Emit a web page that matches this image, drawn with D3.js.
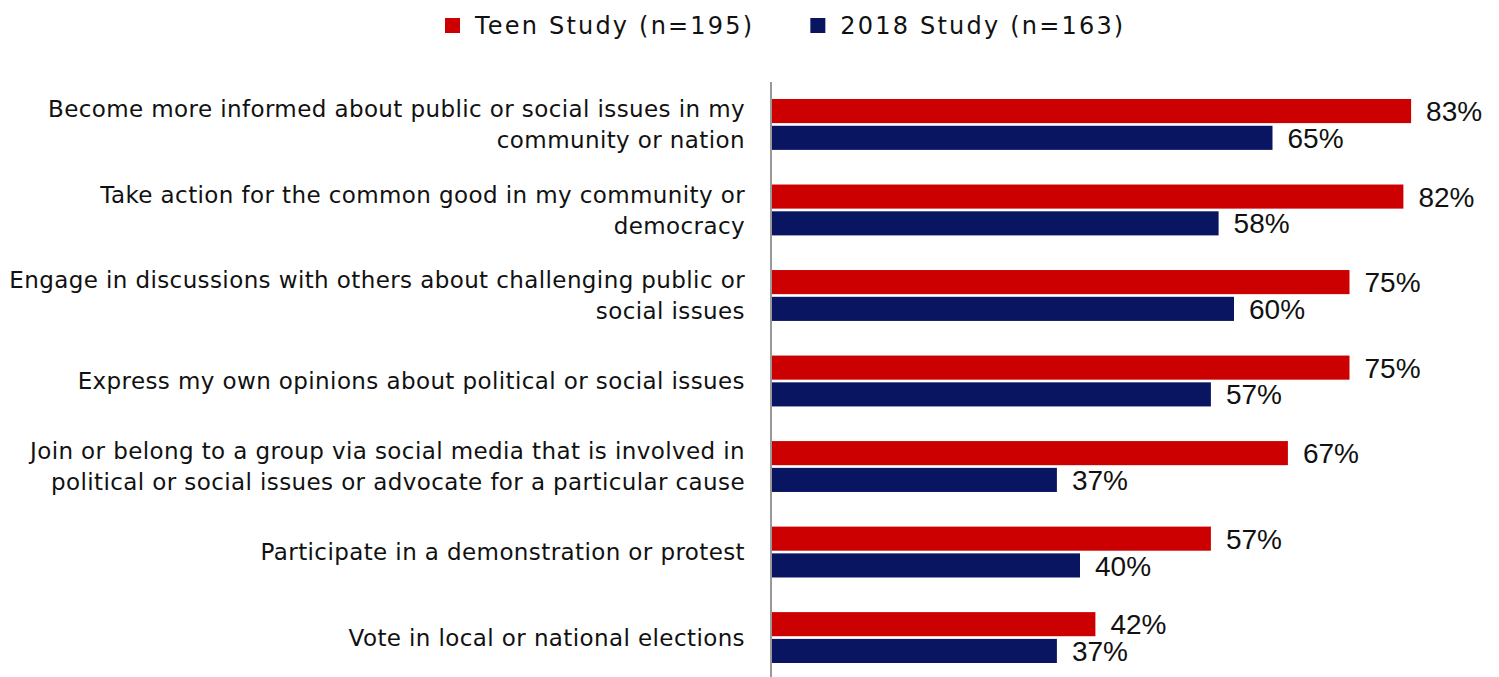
<!DOCTYPE html>
<html>
<head>
<meta charset="utf-8">
<script src="https://cdn.jsdelivr.net/npm/d3@7.9.0/dist/d3.min.js"></script>
<style>
  html, body { margin: 0; padding: 0; background: #fff; }
  svg { display: block; }
</style>
</head>
<body>
<svg id="chart" width="1499" height="677"></svg>
<script>
// categories, line breaks marked with "|"
const categories = [
  'Become more informed about public or social issues in my|community or nation',
  'Take action for the common good in my community or|democracy',
  'Engage in discussions with others about challenging public or|social issues',
  'Express my own opinions about political or social issues',
  'Join or belong to a group via social media that is involved in|political or social issues or advocate for a particular cause',
  'Participate in a demonstration or protest',
  'Vote in local or national elections'
];
const seriesNames = ['Teen Study (n=195)', '2018 Study (n=163)'];
const teenValues = [83, 82, 75, 75, 67, 57, 42];
const study2018Values = [65, 58, 60, 57, 37, 40, 37];
const colors = ['#cc0000', '#0a1562'];

const svg = d3.select('#chart');
const labelFont = '"DejaVu Sans", sans-serif';

const x = d3.scaleLinear().domain([0, 100]).range([772, 1542]);
const y = d3.scaleBand().domain(categories).range([99, 663])
  .paddingInner(0.405).paddingOuter(0);
const ySub = d3.scaleBand().domain(seriesNames).range([0, y.bandwidth()]).paddingInner(0.1);

const rows = categories.map((c, i) => ({
  cat: c,
  values: [
    { name: seriesNames[0], value: teenValues[i], color: colors[0] },
    { name: seriesNames[1], value: study2018Values[i], color: colors[1] }
  ]
}));

// bars
const groups = svg.selectAll('g.row').data(rows).join('g')
  .attr('class', 'row')
  .attr('transform', d => `translate(0,${y(d.cat)})`);

groups.selectAll('rect').data(d => d.values).join('rect')
  .attr('x', x(0))
  .attr('y', d => ySub(d.name))
  .attr('width', d => x(d.value) - x(0))
  .attr('height', ySub.bandwidth())
  .attr('fill', d => d.color);

groups.selectAll('text.val').data(d => d.values).join('text')
  .attr('class', 'val')
  .attr('x', d => x(d.value) + 15)
  .attr('y', d => ySub(d.name) + ySub.bandwidth() / 2)
  .attr('dy', '0.36em')
  .attr('font-family', '"Liberation Sans", Arial, sans-serif')
  .attr('font-size', 28)
  .attr('fill', '#111')
  .text(d => d.value + '%');

// category labels
groups.each(function(d) {
  const lines = d.cat.split('|');
  const t = d3.select(this).append('text')
    .attr('text-anchor', 'end')
    .attr('font-family', labelFont)
    .attr('font-size', 23)
    .attr('letter-spacing', 0.4)
    .attr('fill', '#111');
  const lh = 31;
  lines.forEach((ln, k) => {
    t.append('tspan')
      .attr('x', 745)
      .attr('y', y.bandwidth() / 2 + (k - (lines.length - 1) / 2) * lh)
      .attr('dy', '0.36em')
      .text(ln);
  });
});

// axis line
svg.append('line')
  .attr('x1', x(0) - 1).attr('x2', x(0) - 1)
  .attr('y1', 82).attr('y2', 677)
  .attr('stroke', '#999').attr('stroke-width', 2);

// legend
const legend = svg.append('g').attr('transform', 'translate(445,34)');
let lx = 0;
seriesNames.forEach((name, i) => {
  const g = legend.append('g').attr('transform', `translate(${lx},0)`);
  g.append('rect').attr('x', 0).attr('y', -16).attr('width', 15).attr('height', 15)
    .attr('fill', colors[i]);
  const t = g.append('text').attr('x', 30).attr('y', 0)
    .attr('font-family', labelFont).attr('font-size', 24)
    .attr('letter-spacing', 2.2).attr('fill', '#111')
    .text(name);
  lx += 30 + t.node().getComputedTextLength() + 56;
});
</script>
</body>
</html>
